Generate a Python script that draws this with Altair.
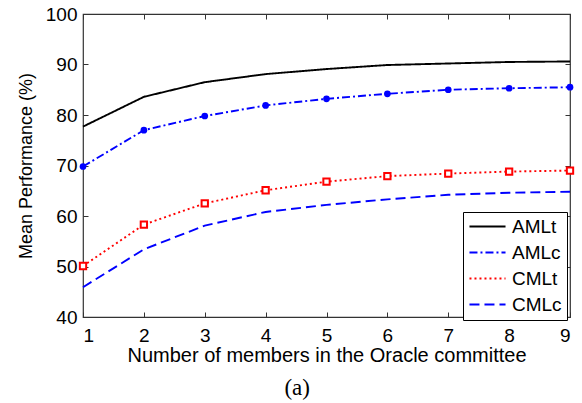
import altair as alt
import pandas as pd

members = [1, 2, 3, 4, 5, 6, 7, 8, 9]
amlt = [77.7, 83.6, 86.5, 88.1, 89.1, 89.9, 90.2, 90.5, 90.6]
amlc = [69.8, 77.0, 79.8, 81.9, 83.2, 84.2, 85.0, 85.3, 85.5]
cmlt = [50.1, 58.3, 62.5, 65.1, 66.8, 67.9, 68.4, 68.8, 69.0]
cmlc = [45.9, 53.4, 58.1, 60.8, 62.2, 63.3, 64.2, 64.6, 64.8]

series = ["AMLt", "AMLc", "CMLt", "CMLc"]
colors = ["#000000", "#0000ff", "#ff0000", "#0000ff"]
dashes = [[1, 0], [8, 3, 2, 3], [2, 3], [10, 5]]
y_ticks = [40, 50, 60, 70, 80, 90, 100]

rows = []
for name, vals in zip(series, [amlt, amlc, cmlt, cmlc]):
    for m, v in zip(members, vals):
        rows.append({"members": m, "perf": v, "method": name})
df = pd.DataFrame(rows)

FONT = "Liberation Sans"
xscale = alt.Scale(domain=[1, 9], nice=False, zero=False)
yscale = alt.Scale(domain=[40, 100], nice=False, zero=False)

leg = dict(title=None, orient="none", legendX=380, legendY=198,
           symbolType="stroke", symbolSize=1300, symbolStrokeWidth=2,
           labelFontSize=19, labelFont=FONT, labelColor="#000000",
           rowPadding=6, clipHeight=19, strokeColor="#000000",
           fillColor="white", padding=5, labelOffset=5)

lines = alt.Chart(df).mark_line(strokeWidth=1.9).encode(
    x=alt.X("members:Q", scale=xscale,
            axis=alt.Axis(values=members, title="Number of members in the Oracle committee",
                          offset=-5, tickSize=5, domain=False, grid=False,
                          labelPadding=9, titlePadding=0, format="d",
                          titleFontSize=20)),
    y=alt.Y("perf:Q", scale=yscale,
            axis=alt.Axis(values=y_ticks, title="Mean Performance (%)",
                          offset=-5, tickSize=5, domain=False, grid=False,
                          labelPadding=6, titlePadding=10, titleFontSize=18)),
    color=alt.Color("method:N", scale=alt.Scale(domain=series, range=colors),
                    legend=alt.Legend(**leg)),
    strokeDash=alt.StrokeDash("method:N", scale=alt.Scale(domain=series, range=dashes),
                              legend=alt.Legend(**leg)),
)

circ = alt.Chart(df).transform_filter(alt.datum.method == "AMLc").mark_point(
    shape="circle", filled=True, color="#0000ff", size=45, opacity=1
).encode(
    x=alt.X("members:Q", scale=xscale, axis=None),
    y=alt.Y("perf:Q", scale=yscale, axis=None),
)

sq = alt.Chart(df).transform_filter(alt.datum.method == "CMLt").mark_point(
    shape="square", filled=False, color="#ff0000", size=40, strokeWidth=2, opacity=1,
    fill="white", fillOpacity=1
).encode(
    x=alt.X("members:Q", scale=xscale, axis=None),
    y=alt.Y("perf:Q", scale=yscale, axis=None),
)

mirror = alt.Chart(df).mark_point(opacity=0).encode(
    x=alt.X("members:Q", scale=xscale,
            axis=alt.Axis(orient="top", values=members, labels=False, title=None,
                          offset=-5, tickSize=5, domain=False, grid=False)),
    y=alt.Y("perf:Q", scale=yscale,
            axis=alt.Axis(orient="right", values=y_ticks, labels=False, title=None,
                          offset=-5, tickSize=5, domain=False, grid=False)),
)

chart = alt.layer(lines, circ, sq, mirror).resolve_axis(
    x="independent", y="independent"
).properties(
    width=487, height=303,
    padding={"left": 83, "top": 14, "right": 12, "bottom": 86},
    autosize=alt.AutoSizeParams(type="none"),
    title=alt.Title("(a)", orient="bottom", font="Liberation Serif", fontSize=23,
                    fontWeight="normal", anchor="middle", frame="bounds", offset=12,
                    color="#000000"),
).configure_view(
    stroke="#333333", strokeWidth=1.2
).configure_axis(
    labelFont=FONT, titleFont=FONT, labelFontSize=19,
    titleFontWeight="normal", labelColor="#000000", titleColor="#000000",
    tickColor="#333333", tickWidth=1
)

chart.save("out.html", embed_options={"renderer": "svg", "actions": False})
